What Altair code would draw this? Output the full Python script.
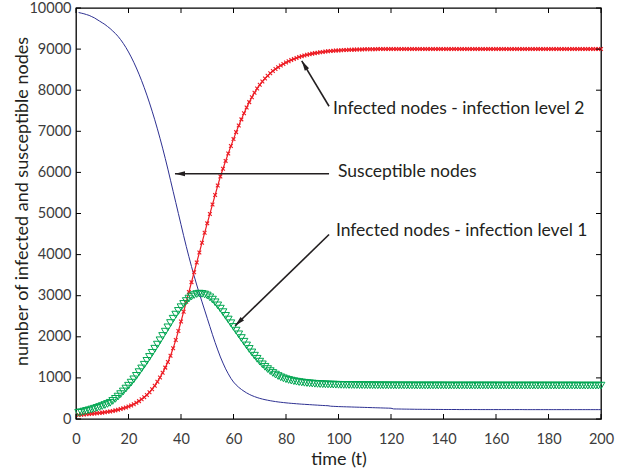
import altair as alt
import pandas as pd
import math

# ---------------- data ----------------
time_t = list(range(1, 201))

susceptible = [
    9890, 9875, 9860, 9840, 9820, 9790, 9760, 9720, 9680, 9640,
    9600, 9550, 9500, 9440, 9380, 9310, 9230, 9140, 9040, 8930,
    8810, 8680, 8540, 8390, 8230, 8060, 7880, 7690, 7490, 7280,
    7060, 6830, 6590, 6340, 6080, 5810, 5540, 5270, 5000, 4730,
    4460, 4200, 3950, 3710, 3480, 3260, 3050, 2850, 2650, 2450,
    2250, 2050, 1860, 1680, 1510, 1360, 1220, 1100, 990, 900,
    830, 770, 720, 675, 635, 600, 570, 545, 522, 502,
    485, 470, 457, 445, 434, 424, 415, 407, 400, 393,
    387, 381, 376, 371, 366, 361, 357, 353, 349, 345,
    341, 337, 333, 329, 326, 323, 312, 308, 305, 302,
    300, 298, 296, 294, 292, 290, 288, 286, 284, 282,
    280, 278, 276, 274, 272, 270, 268, 266, 264, 262,
    245, 244, 243, 242, 241, 240, 239, 238, 237, 236,
    236, 235, 235, 234, 234, 233, 233, 232, 232, 231,
    231, 231, 231, 231, 231, 230, 230, 230, 230, 230,
    230, 230, 230, 229, 229, 229, 229, 229, 229, 229,
    229, 229, 229, 229, 229, 229, 229, 229, 229, 229,
    228, 228, 228, 228, 228, 228, 228, 228, 228, 228,
    228, 228, 228, 228, 228, 228, 228, 228, 228, 228,
    228, 228, 228, 228, 228, 228, 228, 228, 228, 228,
]

infected_level2 = [
    100, 105, 110, 115, 120, 126, 132, 139, 147, 155,
    164, 174, 185, 197, 210, 225, 242, 261, 282, 305,
    330, 360, 395, 435, 480, 530, 585, 650, 725, 810,
    905, 1010, 1125, 1250, 1385, 1540, 1720, 1920, 2140, 2370,
    2610, 2850, 3090, 3330, 3570, 3810, 4050, 4290, 4530, 4760,
    4990, 5220, 5450, 5680, 5900, 6090, 6280, 6460, 6640, 6810,
    6980, 7140, 7290, 7440, 7580, 7710, 7830, 7940, 8040, 8130,
    8210, 8285, 8350, 8410, 8465, 8515, 8560, 8600, 8640, 8675,
    8705, 8735, 8760, 8785, 8808, 8828, 8846, 8862, 8877, 8890,
    8902, 8913, 8923, 8932, 8940, 8947, 8953, 8959, 8964, 8968,
    8972, 8976, 8979, 8982, 8985, 8987, 8989, 8991, 8993, 8995,
    8996, 8997, 8998, 8999, 9000, 9000, 9000, 9000, 9000, 9000,
    9000, 9000, 9000, 9000, 9000, 9000, 9000, 9000, 9000, 9000,
    9000, 9000, 9000, 9000, 9000, 9000, 9000, 9000, 9000, 9000,
    9000, 9000, 9000, 9000, 9000, 9000, 9000, 9000, 9000, 9000,
    9000, 9000, 9000, 9000, 9000, 9000, 9000, 9000, 9000, 9000,
    9000, 9000, 9000, 9000, 9000, 9000, 9000, 9000, 9000, 9000,
    9000, 9000, 9000, 9000, 9000, 9000, 9000, 9000, 9000, 9000,
    9000, 9000, 9000, 9000, 9000, 9000, 9000, 9000, 9000, 9000,
    9000, 9000, 9000, 9000, 9000, 9000, 9000, 9000, 9000, 9000,
]

infected_level1 = [
    150, 165, 180, 196, 213, 231, 250, 270, 292, 315,
    340, 366, 394, 440, 490, 545, 605, 670, 740, 810,
    885, 965, 1050, 1140, 1230, 1320, 1415, 1510, 1610, 1710,
    1810, 1915, 2020, 2125, 2230, 2335, 2440, 2540, 2630, 2720,
    2800, 2870, 2930, 2980, 3015, 3040, 3050, 3045, 3030, 3005,
    2960, 2905, 2840, 2765, 2685, 2600, 2510, 2420, 2330, 2240,
    2150, 2060, 1970, 1880, 1790, 1705, 1620, 1540, 1465, 1395,
    1330, 1270, 1215, 1165, 1120, 1080, 1045, 1015, 990, 968,
    950, 934, 920, 908, 898, 889, 881, 874, 868, 862,
    857, 853, 849, 846, 843, 840, 838, 836, 834, 832,
    830, 829, 828, 827, 826, 825, 824, 823, 822, 822,
    821, 821, 820, 820, 819, 819, 818, 818, 818, 817,
    817, 817, 817, 816, 816, 816, 816, 816, 815, 815,
    815, 815, 815, 815, 815, 815, 815, 815, 815, 815,
    814, 814, 814, 814, 814, 814, 814, 814, 814, 814,
    814, 814, 814, 814, 814, 814, 814, 814, 814, 814,
    813, 813, 813, 813, 813, 813, 813, 813, 813, 813,
    813, 813, 813, 813, 813, 813, 813, 813, 813, 813,
    813, 813, 813, 813, 813, 813, 813, 813, 813, 813,
    812, 812, 812, 812, 812, 812, 812, 812, 812, 812,
]

x_ticks = [0, 20, 40, 60, 80, 100, 120, 140, 160, 180, 200]
y_ticks = [0, 1000, 2000, 3000, 4000, 5000, 6000, 7000, 8000, 9000, 10000]

ann_labels = ["Infected nodes - infection level 2", "Susceptible nodes",
              "Infected nodes - infection level 1"]
ann_t = [97.9, 99.8, 99.0]
ann_v = [7544, 6007, 4585]
arrow_t0 = [96.4, 96.4, 96.4]
arrow_v0 = [7610, 5968, 4488]
arrow_t1 = [86.0, 37.7, 60.6]
arrow_v1 = [8715, 5968, 2268]

# ---------------- layout ----------------
W, H = 525, 411
FONT = "Lato"
TXT = "#231f20"

df = pd.DataFrame({"t": time_t, "S": susceptible,
                   "I1": infected_level1, "I2": infected_level2})

xs = alt.Scale(domain=[0, 200], nice=False, zero=False)
ys = alt.Scale(domain=[0, 10000], nice=False)

xaxis = alt.Axis(values=x_ticks, format="d", title="time (t)", grid=False,
                 ticks=False, tickSize=0, domain=False, labelFont=FONT,
                 labelFontSize=14.5, labelColor="#3c3c3c", labelPadding=13,
                 labelFlush=False, labelOverlap=False, titleFont=FONT,
                 titleFontSize=18, titleFontWeight="normal", titleColor=TXT,
                 titleX=W / 2, titleY=40, titleBaseline="middle",
                 titleAlign="center")
yaxis = alt.Axis(values=y_ticks, format="d",
                 title="number of infected and susceptible nodes",
                 grid=False, ticks=False, tickSize=0, domain=False,
                 labelFont=FONT, labelFontSize=14.5, labelColor="#3c3c3c",
                 labelPadding=5, labelFlush=False, labelOverlap=False,
                 titleFont=FONT, titleFontSize=18, titleFontWeight="normal",
                 titleColor=TXT, titleAngle=270, titleX=-54, titleY=193,
                 titleBaseline="middle", titleAlign="center")


def X(field):
    return alt.X(field, scale=xs, axis=xaxis)


def Y(field):
    return alt.Y(field, scale=ys, axis=yaxis)


base = alt.Chart(df)

blue = base.mark_line(color="#2e3192", strokeWidth=1).encode(
    x=X("t:Q"), y=Y("S:Q"))

red_line = base.mark_line(color="#ed1c24", strokeWidth=1.2).encode(
    x=X("t:Q"), y=Y("I2:Q"))
red_pts = base.mark_point(shape="M-1,-1L1,1M-1,1L1,-1", filled=False,
                          color="#ed1c24", size=14, strokeWidth=1.1,
                          opacity=1).encode(x=X("t:Q"), y=Y("I2:Q"))

green_pts = base.mark_point(shape="triangle-down", filled=False,
                            color="#00a651", size=60, strokeWidth=1,
                            opacity=1).encode(x=X("t:Q"), y=Y("I1:Q"))

# inward ticks (Matlab style) on all four sides
xt = pd.DataFrame({"v": x_ticks})
yt = pd.DataFrame({"v": y_ticks})
tick_style = dict(color="black", strokeWidth=1)
tb = alt.Chart(xt).mark_rule(**tick_style).encode(
    x=X("v:Q"), y=alt.value(H), y2=alt.value(H - 5))
tt = alt.Chart(xt).mark_rule(**tick_style).encode(
    x=X("v:Q"), y=alt.value(0), y2=alt.value(5))
tl = alt.Chart(yt).mark_rule(**tick_style).encode(
    y=Y("v:Q"), x=alt.value(0), x2=alt.value(5))
tr = alt.Chart(yt).mark_rule(**tick_style).encode(
    y=Y("v:Q"), x=alt.value(W - 5), x2=alt.value(W))

# annotations
px_t = W / 200.0
px_v = H / 10000.0
angles = []
for a0, b0, a1, b1 in zip(arrow_t0, arrow_v0, arrow_t1, arrow_v1):
    dx = (a1 - a0) * px_t
    dy = -(b1 - b0) * px_v
    angles.append(math.degrees(math.atan2(dx, -dy)) % 360)

adf = pd.DataFrame({"label": ann_labels, "t": ann_t, "v": ann_v,
                    "t0": arrow_t0, "v0": arrow_v0, "t1": arrow_t1,
                    "v1": arrow_v1, "ang": angles})

arrows = alt.Chart(adf).mark_rule(color=TXT, strokeWidth=1.6).encode(
    x=X("t0:Q"), y=Y("v0:Q"), x2="t1:Q", y2="v1:Q")
heads = alt.Chart(adf).mark_point(shape="M0,0L-0.42,1.7L0.42,1.7Z", filled=True,
                                  color=TXT, size=140, opacity=1,
                                  strokeWidth=0).encode(
    x=X("t1:Q"), y=Y("v1:Q"), angle=alt.Angle("ang:Q", scale=None))
labels = alt.Chart(adf).mark_text(align="left", baseline="middle", font=FONT,
                                  fontSize=17.5, color=TXT).encode(
    x=X("t:Q"), y=Y("v:Q"), text="label:N")

chart = alt.layer(blue, red_line, red_pts, green_pts, tb, tt, tl, tr,
                  arrows, heads, labels).properties(
    width=W, height=H,
    padding={"left": 76, "top": 8, "right": 28, "bottom": 53},
    autosize=alt.AutoSizeParams(type="none"),
    background="white",
).configure_view(stroke="black", strokeWidth=1.3)

chart.save("out.html", embed_options={"renderer": "svg", "actions": False})
